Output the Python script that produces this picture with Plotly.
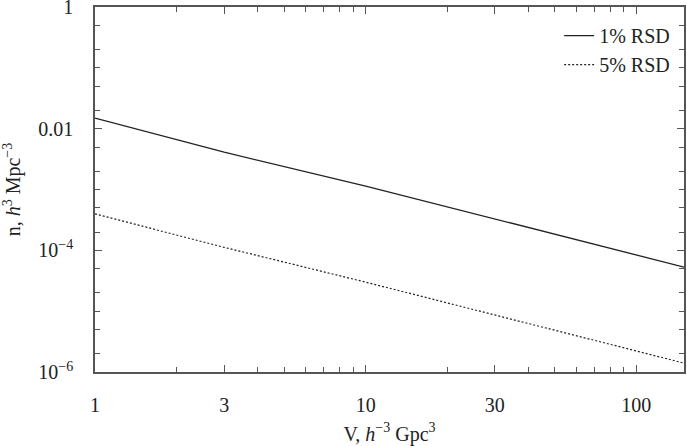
import plotly.graph_objects as go

# Data
V = [1, 3, 10, 150]
n_1pct = [0.0149, 4.1e-3, 1.14e-3, 5.3e-5]
n_5pct = [3.97e-4, 1.12e-4, 3.0e-5, 1.4e-6]

x_major = [1, 3, 10, 30, 100]
x_major_text = ["1", "3", "10", "30", "100"]
x_minor = [2, 4, 5, 6, 7, 8, 9, 20, 40, 50, 60, 70, 80, 90]

y_major = [1, 1e-2, 1e-4, 1e-6]
y_major_text = ["1", "0.01", "10<sup>−4</sup>", "10<sup>−6</sup>"]
y_minor = [0.5, 0.2, 0.1, 0.05, 0.02, 5e-3, 2e-3, 1e-3, 5e-4, 2e-4,
           5e-5, 2e-5, 1e-5, 5e-6, 2e-6]

FONT = "Liberation Serif"
INK = "#222222"
AX = "#555555"

fig = go.Figure()
fig.add_trace(go.Scatter(x=V, y=n_1pct, mode="lines", name="1% RSD",
                         line=dict(color=INK, width=1.3)))
fig.add_trace(go.Scatter(x=V, y=n_5pct, mode="lines", name="5% RSD",
                         line=dict(color=INK, width=1.2, dash="2px,2px")))

fig.update_layout(
    width=687, height=446,
    margin=dict(l=95, r=3, t=7, b=74),
    paper_bgcolor="white", plot_bgcolor="white",
    font=dict(family=FONT, size=20, color=INK),
    showlegend=True,
    legend=dict(x=0.985, y=0.975, xanchor="right", yanchor="top",
                bgcolor="rgba(0,0,0,0)", font=dict(size=20),
                itemwidth=30, tracegroupgap=0),
)

fig.update_xaxes(
    type="log", range=[0, 2.176], automargin=False,
    tickmode="array", tickvals=x_major, ticktext=x_major_text,
    ticks="inside", ticklen=7, tickwidth=1, tickcolor=AX,
    minor=dict(tickmode="array", tickvals=x_minor, ticks="inside",
               ticklen=5, tickwidth=1, tickcolor=AX, showgrid=False),
    showline=True, linecolor=AX, linewidth=1.5, mirror="ticks",
    showgrid=False, zeroline=False,
    ticklabelstandoff=14, ticklabeloverflow="allow",
    tickfont=dict(size=20),
    title=dict(text="V, <i>h</i><sup>−3</sup> Gpc<sup>3</sup>", standoff=12,
               font=dict(size=20)),
)
fig.update_yaxes(
    type="log", range=[-6, 0.0005], automargin=False,
    tickmode="array", tickvals=y_major, ticktext=y_major_text,
    ticks="inside", ticklen=7, tickwidth=1, tickcolor=AX,
    minor=dict(tickmode="array", tickvals=y_minor, ticks="inside",
               ticklen=5, tickwidth=1, tickcolor=AX, showgrid=False),
    showline=True, linecolor=AX, linewidth=1.5, mirror="ticks",
    showgrid=False, zeroline=False,
    ticklabelstandoff=16, ticklabeloverflow="allow",
    tickfont=dict(size=20),
    title=dict(text="n, <i>h</i><sup>3</sup> Mpc<sup>−3</sup>", standoff=12,
               font=dict(size=20)),
)

fig.write_html("out.html")
